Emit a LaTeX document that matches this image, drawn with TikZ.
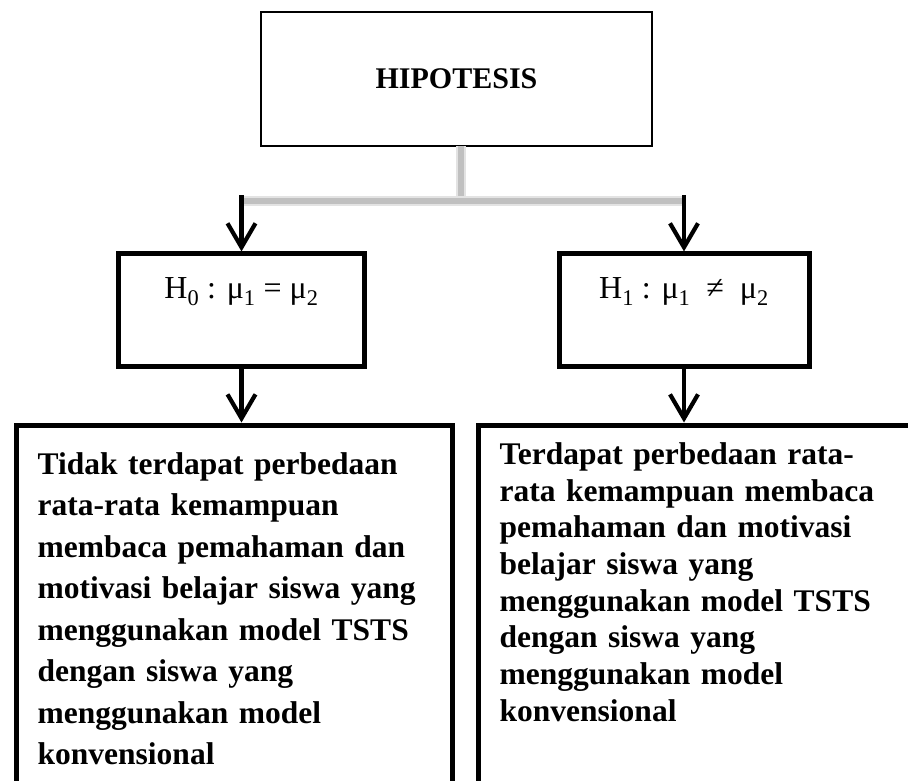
\documentclass[tikz,border=0pt]{standalone}
\usepackage{fontspec}
\setmainfont{Liberation Serif}
\usetikzlibrary{arrows.meta}
\usetikzlibrary{positioning}

\begin{document}
\begin{tikzpicture}[x=1pt,y=-1pt,>={Straight Barb[length=24pt,width=28pt]},
	box/.style={draw,rectangle,line width=5pt,outer sep=0pt},
	link/.style={->,line width=4.2pt,shorten >=2.5pt},
	rule/.style={line width=6pt,draw=connector,preaction={draw=connector!45,line width=10pt}},
	claim/.style={box,anchor=north west,align=left,inner xsep=21.7pt,text depth=420pt}]
	
	\definecolor{connector}{RGB}{192,192,192}
	
	\useasboundingbox (0,0) rectangle (908,781);
	\clip (0,0) rectangle (908,781);
	
	\coordinate (hub) at (461,201);
	\coordinate (split) at (461,195);
	
	\node[box,line width=2.5pt,minimum width=391pt,minimum height=134pt,
	font=\bfseries\fontsize{30}{36}\selectfont] (hip) at (456.5,79) {HIPOTESIS};
	\node[box,inner sep=0pt,minimum width=246pt,text height=45pt,text depth=67.7pt,
	font=\fontsize{32}{38}\selectfont] (h0) at (241.5,310.3)
	{H\textsubscript{0} : μ\textsubscript{1} = μ\textsubscript{2}};
	\node[box,inner sep=0pt,minimum width=250pt,text height=45pt,text depth=67.7pt,
	font=\fontsize{32}{38}\selectfont] (h1) at (684,310.3)
	{H\textsubscript{1} : μ\textsubscript{1} ~≠~ μ\textsubscript{2}};
	\node[claim,inner ysep=27.5pt,text width=392.6pt,
	font=\bfseries\fontsize{31.5}{41.5}\selectfont] (tolak) at (16,425)
	{Tidak terdapat perbedaan\\
		rata-rata kemampuan\\
		membaca pemahaman dan\\
		motivasi belajar siswa yang\\
		menggunakan model TSTS\\
		dengan siswa yang\\
		menggunakan model\\
		konvensional};
	\node[claim,inner ysep=17.5pt,text width=420pt,
	font=\bfseries\fontsize{31.5}{36.7}\selectfont] (terima) at (478,425)
	{Terdapat perbedaan rata-\\
		rata kemampuan membaca\\
		pemahaman dan motivasi\\
		belajar siswa yang\\
		menggunakan model TSTS\\
		dengan siswa yang\\
		menggunakan model\\
		konvensional};
	
	\draw[rule] (hub |- hip.south) -- (hub);
	\draw[rule] (h0.north |- hub) -- (h1.north |- hub);
	
	\path[link]
	(h0.north |- split) edge (h0.north)
	(h1.north |- split) edge (h1.north)
	(h0.south) edge (h0.south |- tolak.north)
	(h1.south) edge (h1.south |- terima.north);
\end{tikzpicture}
\end{document}
